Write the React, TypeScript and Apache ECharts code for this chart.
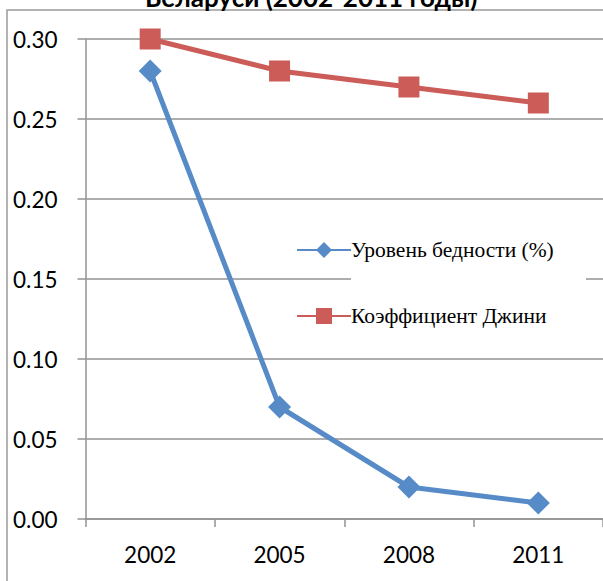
import React, { useEffect, useRef } from "react";
import * as echarts from "echarts";

const titleText = "Беларуси (2002-2011 годы)";
const years = ["2002", "2005", "2008", "2011"];
const povertySeriesName = "Уровень бедности (%)";
const giniSeriesName = "Коэффициент Джини";
const povertyValues = [0.28, 0.07, 0.02, 0.01];
const giniValues = [0.3, 0.28, 0.27, 0.26];
const yMin = 0;
const yMax = 0.3;
const yStep = 0.05;

const BLUE = "#568BC8";
const RED = "#CC5C57";
const GRAY = "#929292";

export default function App() {
  const ref = useRef<HTMLDivElement>(null);
  useEffect(() => {
    document.body.style.margin = "0";
    if (!ref.current) return;
    const chart = echarts.init(ref.current, null, { renderer: "svg" });
    chart.setOption({
      animation: false,
      backgroundColor: "#ffffff",
      title: {
        text: titleText,
        left: 140,
        top: -21,
        textStyle: {
          fontFamily: "Lato",
          fontWeight: "bold",
          fontSize: 26,
          color: "#000",
        },
      },
      graphic: [
        {
          type: "rect",
          z: 0,
          silent: true,
          shape: { x: 7, y: 10, width: 800, height: 800 },
          style: { fill: "none", stroke: "#9a9a9a", lineWidth: 1.5 },
        },
        {
          type: "rect",
          z: 3,
          silent: true,
          shape: { x: 351, y: 266, width: 235, height: 26 },
          style: { fill: "#ffffff" },
        },
      ],
      legend: {
        orient: "vertical",
        left: 296,
        top: 239,
        itemWidth: 54,
        itemHeight: 20,
        itemGap: 44,
        padding: 0,
        textStyle: {
          fontFamily: "Liberation Serif",
          fontSize: 21.5,
          color: "#000",
          padding: [0, 0, 0, -5],
        },
        data: [povertySeriesName, giniSeriesName],
      },
      grid: {
        left: 85.5,
        right: -3.5,
        top: 39,
        bottom: 62,
        containLabel: false,
      },
      xAxis: {
        type: "category",
        data: years,
        boundaryGap: true,
        axisLine: { lineStyle: { color: GRAY, width: 1.5 } },
        axisTick: {
          show: true,
          interval: 0,
          length: 8,
          lineStyle: { color: GRAY, width: 1.5 },
        },
        axisLabel: {
          margin: 24,
          fontFamily: "Lato",
          fontSize: 22.5,
          color: "#000",
        },
        splitLine: { show: false },
      },
      yAxis: {
        type: "value",
        min: yMin,
        max: yMax,
        interval: yStep,
        axisLine: { show: true, lineStyle: { color: GRAY, width: 1.5 } },
        axisTick: {
          show: true,
          length: 8,
          lineStyle: { color: GRAY, width: 1.5 },
        },
        axisLabel: {
          margin: 28,
          fontFamily: "Lato",
          fontSize: 22.5,
          color: "#000",
          formatter: (v: number) => v.toFixed(2),
        },
        splitLine: { show: true, lineStyle: { color: GRAY, width: 1.5 } },
      },
      series: [
        {
          name: povertySeriesName,
          type: "line",
          data: povertyValues,
          symbol: "diamond",
          symbolSize: 23,
          z: 2,
          lineStyle: { color: BLUE, width: 5 },
          itemStyle: { color: BLUE },
        },
        {
          name: giniSeriesName,
          type: "line",
          data: giniValues,
          symbol: "rect",
          symbolSize: 21,
          z: 2,
          lineStyle: { color: RED, width: 5 },
          itemStyle: { color: RED },
        },
      ],
    });
    return () => chart.dispose();
  }, []);
  return <div ref={ref} style={{ width: 603, height: 581 }} />;
}
